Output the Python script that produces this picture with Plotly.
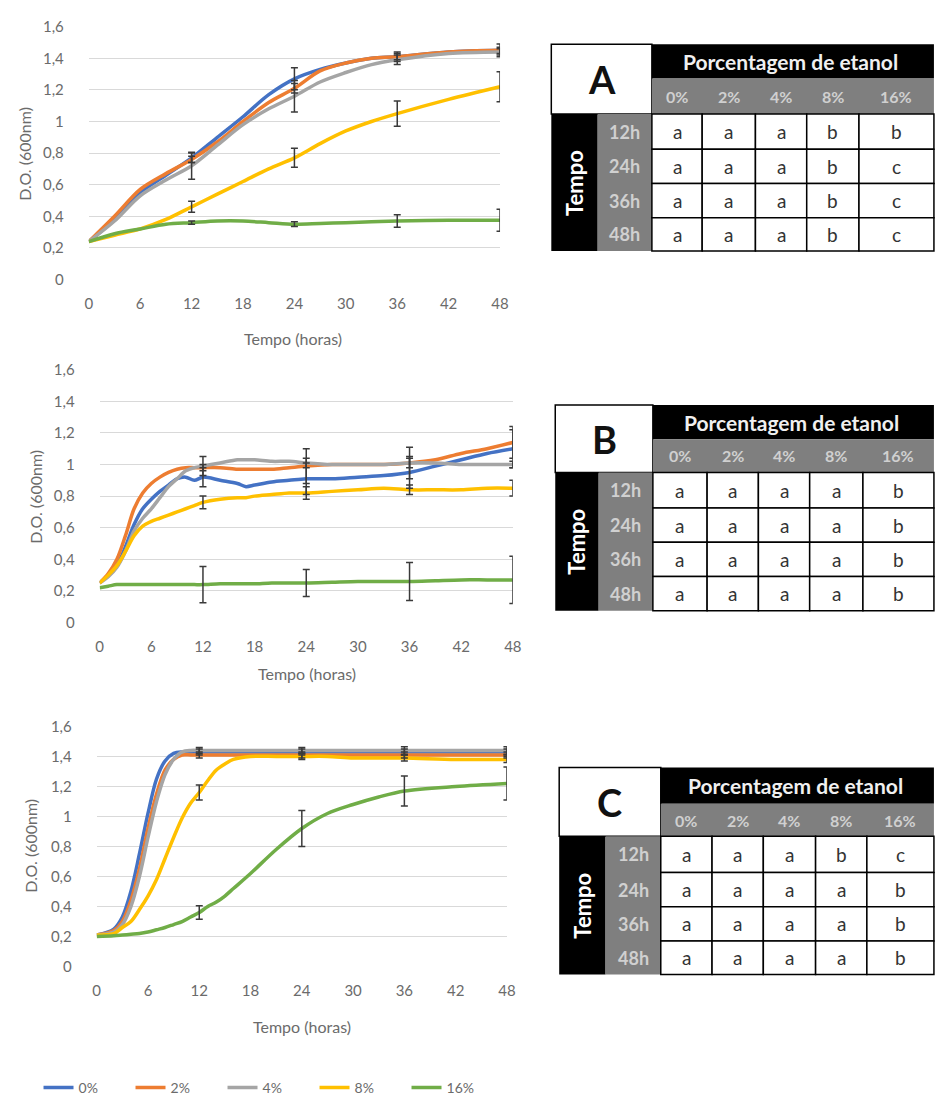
import plotly.graph_objects as go

# ---------------- DATA ----------------
SERIES = ["0%", "2%", "4%", "8%", "16%"]
COLORS = ["#4472C4", "#ED7D31", "#A5A5A5", "#FFC000", "#70AD47"]
X_TICKS = [0, 6, 12, 18, 24, 30, 36, 42, 48]
Y_TICKS = [0, 0.2, 0.4, 0.6, 0.8, 1.0, 1.2, 1.4, 1.6]
Y_TICKTEXT = ["0", "0,2", "0,4", "0,6", "0,8", "1", "1,2", "1,4", "1,6"]
ERR_T = [12, 24, 36, 48]

# Chart A
T_A = [0, 3, 6, 9, 12, 15, 18, 21, 24, 27, 30, 33, 36, 42, 48]
A_0 = [0.24, 0.38, 0.55, 0.66, 0.77, 0.90, 1.03, 1.17, 1.27, 1.33, 1.37, 1.40, 1.41, 1.44, 1.45]
A_2 = [0.24, 0.40, 0.57, 0.67, 0.76, 0.87, 1.00, 1.12, 1.21, 1.32, 1.37, 1.40, 1.41, 1.44, 1.45]
A_4 = [0.24, 0.37, 0.53, 0.63, 0.72, 0.85, 0.98, 1.08, 1.16, 1.25, 1.31, 1.36, 1.39, 1.43, 1.44]
A_8 = [0.24, 0.28, 0.32, 0.38, 0.46, 0.54, 0.62, 0.70, 0.77, 0.86, 0.94, 1.00, 1.05, 1.14, 1.22]
A_16 = [0.24, 0.29, 0.32, 0.35, 0.36, 0.37, 0.37, 0.36, 0.35, 0.355, 0.36, 0.365, 0.37, 0.375, 0.375]
ERR_A_0 = [0.03, 0.07, 0.03, 0.02]
ERR_A_2 = [0.02, 0.03, 0.02, 0.04]
ERR_A_4 = [0.085, 0.10, 0.03, 0.02]
ERR_A_8 = [0.035, 0.06, 0.08, 0.095]
ERR_A_16 = [0.01, 0.015, 0.04, 0.07]

# Chart B
T_B = [0, 1, 2, 3, 4, 5, 6, 7, 8, 9, 10, 11, 12, 14, 16, 17, 18, 20, 22, 24, 27, 30, 33, 36, 39, 42, 45, 48]
B_0 = [0.25, 0.30, 0.36, 0.48, 0.62, 0.72, 0.78, 0.83, 0.87, 0.91, 0.92, 0.90, 0.92, 0.90, 0.88, 0.86, 0.87,
       0.89, 0.90, 0.91, 0.91, 0.92, 0.93, 0.95, 0.99, 1.03, 1.07, 1.10]
B_2 = [0.25, 0.31, 0.40, 0.55, 0.72, 0.82, 0.88, 0.92, 0.95, 0.97, 0.98, 0.98, 0.98, 0.98, 0.97, 0.97, 0.97,
       0.97, 0.98, 0.99, 1.00, 1.00, 1.00, 1.01, 1.03, 1.07, 1.10, 1.14]
B_4 = [0.25, 0.29, 0.35, 0.45, 0.58, 0.66, 0.72, 0.79, 0.86, 0.91, 0.96, 0.98, 0.99, 1.01, 1.03, 1.03, 1.03,
       1.02, 1.02, 1.01, 1.00, 1.00, 1.00, 1.01, 1.01, 1.00, 1.00, 1.00]
B_8 = [0.25, 0.30, 0.36, 0.45, 0.55, 0.61, 0.64, 0.66, 0.68, 0.70, 0.72, 0.74, 0.76, 0.78, 0.79, 0.79, 0.80,
       0.81, 0.82, 0.82, 0.83, 0.84, 0.85, 0.84, 0.84, 0.84, 0.85, 0.85]
B_16 = [0.22, 0.23, 0.24, 0.24, 0.24, 0.24, 0.24, 0.24, 0.24, 0.24, 0.24, 0.24, 0.24, 0.245, 0.245, 0.245,
        0.245, 0.25, 0.25, 0.25, 0.255, 0.26, 0.26, 0.26, 0.265, 0.27, 0.27, 0.27]
ERR_B_0 = [0.06, 0.10, 0.10, 0.12]
ERR_B_2 = [0.02, 0.11, 0.03, 0.10]
ERR_B_4 = [0.06, 0.03, 0.10, 0.02]
ERR_B_8 = [0.04, 0.04, 0.03, 0.05]
ERR_B_16 = [0.115, 0.085, 0.12, 0.15]

# Chart C
T_C = [0, 2, 3, 4, 5, 6, 7, 8, 9, 10, 11, 12, 13, 14, 15, 16, 18, 21, 24, 27, 30, 33, 36, 42, 48]
C_0 = [0.21, 0.25, 0.33, 0.50, 0.75, 1.02, 1.25, 1.37, 1.42, 1.43, 1.43, 1.43, 1.43, 1.43, 1.43, 1.43, 1.43,
       1.43, 1.43, 1.43, 1.43, 1.43, 1.43, 1.43, 1.43]
C_2 = [0.21, 0.24, 0.30, 0.44, 0.65, 0.92, 1.15, 1.31, 1.38, 1.41, 1.41, 1.41, 1.41, 1.41, 1.41, 1.41, 1.41,
       1.41, 1.41, 1.41, 1.41, 1.41, 1.41, 1.41, 1.41]
C_4 = [0.21, 0.23, 0.28, 0.40, 0.60, 0.86, 1.10, 1.28, 1.38, 1.43, 1.44, 1.44, 1.44, 1.44, 1.44, 1.44, 1.44,
       1.44, 1.44, 1.44, 1.44, 1.44, 1.44, 1.44, 1.44]
C_8 = [0.21, 0.22, 0.26, 0.30, 0.38, 0.47, 0.58, 0.72, 0.86, 0.99, 1.09, 1.16, 1.24, 1.31, 1.35, 1.38, 1.40,
       1.40, 1.40, 1.40, 1.39, 1.39, 1.39, 1.38, 1.38]
C_16 = [0.20, 0.205, 0.21, 0.215, 0.22, 0.23, 0.245, 0.26, 0.28, 0.30, 0.33, 0.36, 0.40, 0.43, 0.47, 0.52, 0.62,
        0.78, 0.92, 1.02, 1.08, 1.13, 1.17, 1.20, 1.22]
ERR_C_0 = [0.02, 0.02, 0.02, 0.02]
ERR_C_2 = [0.02, 0.02, 0.02, 0.02]
ERR_C_4 = [0.02, 0.02, 0.025, 0.025]
ERR_C_8 = [0.05, 0.02, 0.02, 0.02]
ERR_C_16 = [0.045, 0.12, 0.10, 0.11]

# Tables of significance letters
TIME_ROWS = ["12h", "24h", "36h", "48h"]
TAB_A = [["a", "a", "a", "b", "b"], ["a", "a", "a", "b", "c"], ["a", "a", "a", "b", "c"], ["a", "a", "a", "b", "c"]]
TAB_B = [["a", "a", "a", "a", "b"], ["a", "a", "a", "a", "b"], ["a", "a", "a", "a", "b"], ["a", "a", "a", "a", "b"]]
TAB_C = [["a", "a", "a", "b", "c"], ["a", "a", "a", "a", "b"], ["a", "a", "a", "a", "b"], ["a", "a", "a", "a", "b"]]

# ---------------- LAYOUT HELPERS ----------------
W, H = 938, 1104
FONT = "Lato, 'Open Sans', sans-serif"
TXT = "#6b6b6b"


def fx(x):
    return x / W


def fy(y):
    return 1 - y / H


fig = go.Figure()

charts = [
    ("", T_A, [A_0, A_2, A_4, A_8, A_16], [ERR_A_0, ERR_A_2, ERR_A_4, ERR_A_8, ERR_A_16], (86, 503, 17, 275)),
    ("2", T_B, [B_0, B_2, B_4, B_8, B_16], [ERR_B_0, ERR_B_2, ERR_B_4, ERR_B_8, ERR_B_16], (97, 516, 367, 625)),
    ("3", T_C, [C_0, C_2, C_4, C_8, C_16], [ERR_C_0, ERR_C_2, ERR_C_4, ERR_C_8, ERR_C_16], (94, 510, 731, 976)),
]

annotations = []
shapes = []

for ci, (suf, t, ys, errs, (x0, x1, y0, y1)) in enumerate(charts):
    xa, ya = "x" + suf, "y" + suf
    for si in range(5):
        fig.add_trace(go.Scatter(
            x=t, y=ys[si], mode="lines", name=SERIES[si],
            line=dict(color=COLORS[si], width=3.5, shape="spline", smoothing=0.9),
            xaxis=xa, yaxis=ya, showlegend=(ci == 2), legendgroup=SERIES[si], cliponaxis=False))
    for si in range(5):
        ey = [ys[si][t.index(tt)] for tt in ERR_T]
        fig.add_trace(go.Scatter(
            x=ERR_T, y=ey, mode="markers", marker=dict(size=1, color="rgba(0,0,0,0)"),
            error_y=dict(type="data", array=errs[si], color="#3a3a3a", thickness=1.5, width=3.5),
            xaxis=xa, yaxis=ya, showlegend=False, hoverinfo="skip", cliponaxis=False))
    fig.layout["xaxis" + suf] = dict(
        domain=[fx(x0), fx(x1)], range=[0, 48], anchor=ya, tickvals=X_TICKS,
        showgrid=False, zeroline=False, showline=False, ticks="",
        ticklabelstandoff=13, tickfont=dict(family=FONT, size=15, color=TXT))
    fig.layout["yaxis" + suf] = dict(
        domain=[fy(y1), fy(y0)], range=[0, 1.6], anchor=xa, tickvals=Y_TICKS, ticktext=Y_TICKTEXT,
        showgrid=True, gridcolor="#D9D9D9", gridwidth=1, zeroline=False, showline=False, ticks="",
        ticklabelstandoff=24, tickfont=dict(family=FONT, size=15, color=TXT))


def text(x, y, s, size, color, bold=False, angle=0):
    annotations.append(dict(x=fx(x), y=fy(y), xref="paper", yref="paper", xanchor="center", yanchor="middle",
                            text=("<b>%s</b>" % s) if bold else s, showarrow=False, textangle=angle,
                            font=dict(family=FONT, size=size, color=color)))


# axis titles
for (xc, yc) in [(293, 335), (307, 677), (302, 1037)]:
    text(xc, yc, "Tempo (horas)", 16, TXT)
for (xc, yc) in [(20, 147), (32, 497), (26, 853)]:
    text(xc, yc, "D.O. (600nm)", 16, TXT, angle=-90)


# ---------------- TABLES ----------------
def rect(x0, y0, x1, y1, fill, line=None, lw=0):
    shapes.append(dict(type="rect", xref="paper", yref="paper", x0=fx(x0), x1=fx(x1), y0=fy(y1), y1=fy(y0),
                       fillcolor=fill, line=dict(color=line if line else fill, width=lw)))


def draw_table(label, left, black_r, corner_r, top, hdr_b, grey_b, cols, rows, letters):
    right = W + 5
    rect(left, top, corner_r, grey_b, "white", "#000", 1.5)
    rect(corner_r, top, right, hdr_b, "#000")
    rect(corner_r, hdr_b, right, grey_b, "#7f7f7f")
    rect(left, grey_b, black_r, rows[-1], "#000")
    rect(black_r, grey_b, corner_r, rows[-1], "#7f7f7f")
    for r in range(4):
        for c in range(5):
            rect(cols[c], rows[r], cols[c + 1], rows[r + 1], "white", "#000", 1.5)
            text((cols[c] + cols[c + 1]) / 2, (rows[r] + rows[r + 1]) / 2, letters[r][c], 19, "#333")
        text((black_r + corner_r) / 2, (rows[r] + rows[r + 1]) / 2, TIME_ROWS[r], 18, "#d0d0d0", bold=True)
    for c in range(5):
        text((cols[c] + cols[c + 1]) / 2, (hdr_b + grey_b) / 2, SERIES[c], 16, "#d0d0d0", bold=True)
    text((corner_r + right) / 2 - 2, (top + hdr_b) / 2, "Porcentagem de etanol", 21, "#f0f0f0", bold=True)
    text((left + corner_r) / 2, (top + grey_b) / 2, label, 38, "#111", bold=True)
    text((left + black_r) / 2, (grey_b + rows[-1]) / 2, "Tempo", 22, "white", bold=True, angle=-90)


draw_table("A", 555, 602, 657, 35, 70, 106, [657, 708, 762, 814, 867, W + 5], [106, 142, 177, 212, 246], TAB_A)
draw_table("B", 559, 603, 658, 403, 438, 472, [658, 713, 765, 817, 871, W + 5], [472, 508, 543, 578, 613], TAB_B)
draw_table("C", 563, 610, 666, 773, 810, 843, [666, 718, 770, 823, 875, W + 5], [843, 880, 915, 950, 984], TAB_C)

fig.update_layout(
    width=W, height=H, margin=dict(l=0, r=0, t=0, b=0),
    paper_bgcolor="white", plot_bgcolor="white",
    annotations=annotations, shapes=shapes,
    legend=dict(orientation="h", x=fx(35), y=fy(1100), xanchor="left", yanchor="middle",
                entrywidth=47, entrywidthmode="pixels", font=dict(family=FONT, size=14, color=TXT),
                bgcolor="rgba(0,0,0,0)"),
)

fig.write_html("out.html")
